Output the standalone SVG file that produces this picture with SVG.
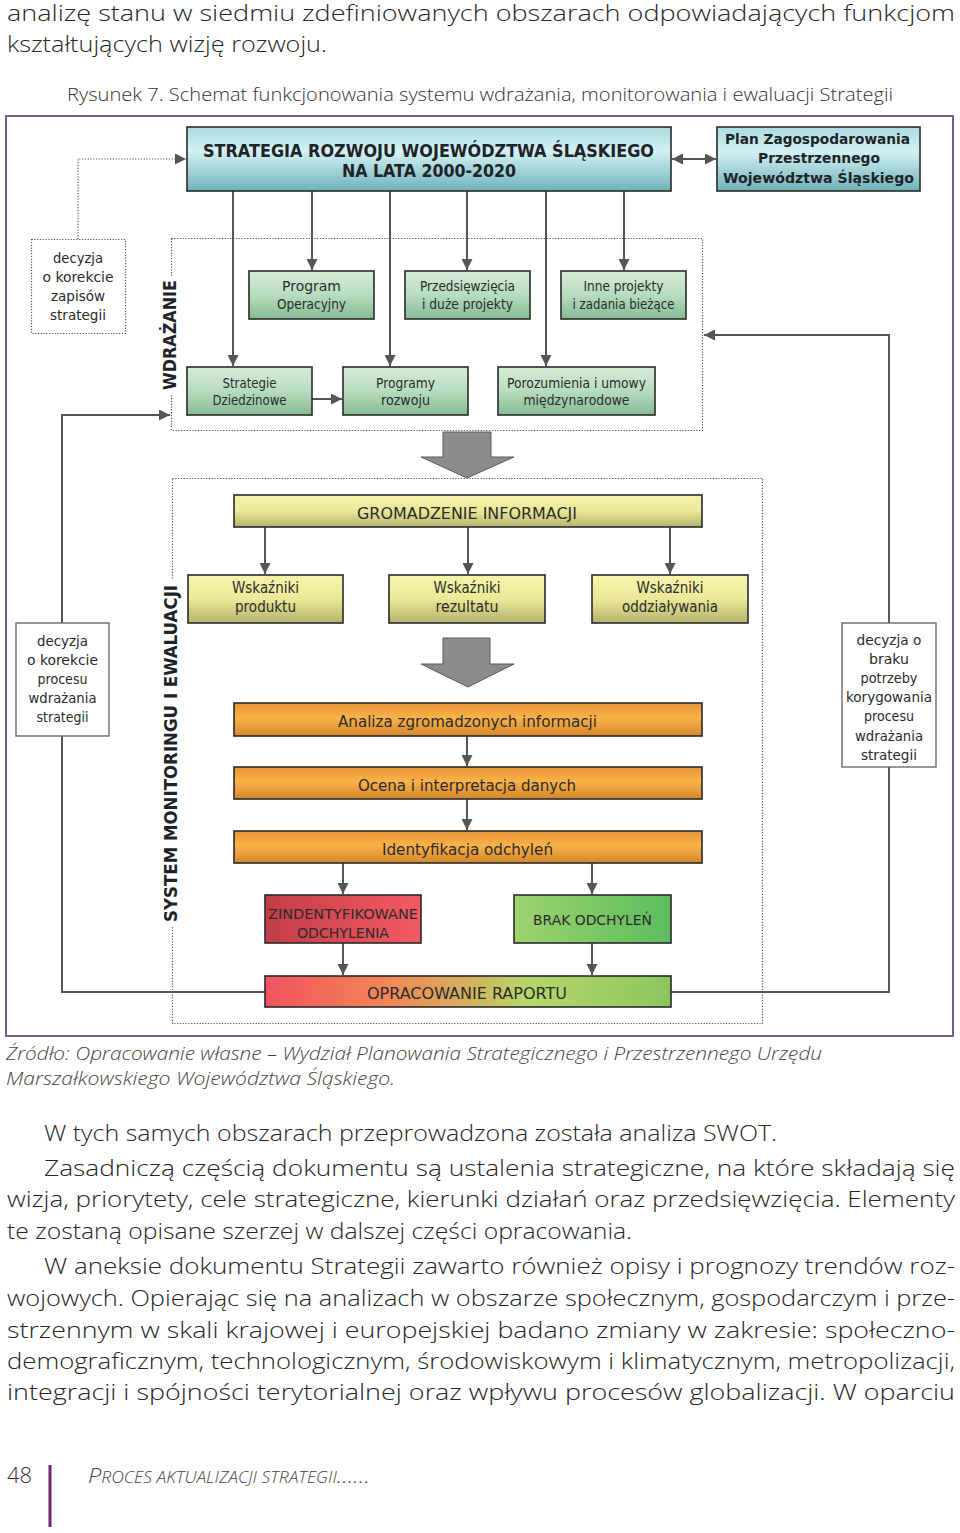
<svg xmlns="http://www.w3.org/2000/svg" width="960" height="1533" viewBox="0 0 960 1533">
<style>
.body{font-family:"Open Sans","Noto Sans","DejaVu Sans",sans-serif;font-size:21.5px;font-weight:300;fill:#262626}
.cap{font-family:"Open Sans","Noto Sans",sans-serif;font-size:19px;font-weight:300;fill:#333}
.src{font-family:"Open Sans","Noto Sans",sans-serif;font-size:19px;font-style:italic;font-weight:300;fill:#444}
.t{font-family:"DejaVu Sans",Verdana,sans-serif;fill:#2b2b2b;text-anchor:middle}
.tb{font-family:"DejaVu Sans",Verdana,sans-serif;font-weight:bold;fill:#1e2328;text-anchor:middle}
.box{stroke:#2a2a2a;stroke-width:1.6}
.dec{fill:#fff;stroke:#6a6a6a;stroke-width:1.4}
.dot{fill:none;stroke:#555;stroke-width:1.2;stroke-dasharray:1.2 1.6}
.con{fill:none;stroke:#555;stroke-width:2}
.big{fill:#8c8c8c;stroke:#5a5a5a;stroke-width:1}
</style>
<defs>
<marker id="ah" markerUnits="userSpaceOnUse" markerWidth="11" markerHeight="11" refX="10" refY="5" orient="auto-start-reverse" viewBox="0 0 10 10">
<path d="M0,0 L10,5 L0,10 z" fill="#555"/>
</marker>
<linearGradient id="gCyan" x1="0" y1="0" x2="0" y2="1">
<stop offset="0" stop-color="#a9dce0"/><stop offset="0.38" stop-color="#d3f1f3"/><stop offset="1" stop-color="#6fb2ba"/>
</linearGradient>
<linearGradient id="gGreen" x1="0" y1="0" x2="0" y2="1">
<stop offset="0" stop-color="#d6edd8"/><stop offset="0.5" stop-color="#b8dcbf"/><stop offset="1" stop-color="#84bb92"/>
</linearGradient>
<linearGradient id="gYellow" x1="0" y1="0" x2="0" y2="1">
<stop offset="0" stop-color="#f6f4aa"/><stop offset="0.5" stop-color="#ebe898"/><stop offset="1" stop-color="#b5b36c"/>
</linearGradient>
<linearGradient id="gOrange" x1="0" y1="0" x2="0" y2="1">
<stop offset="0" stop-color="#e39432"/><stop offset="0.45" stop-color="#fbb24a"/><stop offset="1" stop-color="#d4872c"/>
</linearGradient>
<linearGradient id="gRed" x1="0" y1="0" x2="1" y2="0">
<stop offset="0" stop-color="#c23e48"/><stop offset="1" stop-color="#f45a64"/>
</linearGradient>
<linearGradient id="gBrak" x1="0" y1="0" x2="1" y2="0">
<stop offset="0" stop-color="#9cd46e"/><stop offset="1" stop-color="#5cbd5e"/>
</linearGradient>
<linearGradient id="gRap" x1="0" y1="0" x2="1" y2="0">
<stop offset="0" stop-color="#f2535e"/><stop offset="0.3" stop-color="#f28658"/><stop offset="0.5" stop-color="#d4b05c"/><stop offset="0.65" stop-color="#b4d76a"/><stop offset="1" stop-color="#8cc65e"/>
</linearGradient>
</defs>
<rect width="960" height="1533" fill="#fff"/>

<g id="page-text">
<text class="body" x="7" y="21" textLength="948" lengthAdjust="spacingAndGlyphs">analizę stanu w siedmiu zdefiniowanych obszarach odpowiadających funkcjom</text>
<text class="body" x="7" y="52" textLength="320" lengthAdjust="spacingAndGlyphs">kształtujących wizję rozwoju.</text>
<text class="cap" x="67" y="101" textLength="826" lengthAdjust="spacingAndGlyphs">Rysunek 7. Schemat funkcjonowania systemu wdrażania, monitorowania i ewaluacji Strategii</text>
<text class="src" x="6" y="1060" textLength="816" lengthAdjust="spacingAndGlyphs">Źródło: Opracowanie własne – Wydział Planowania Strategicznego i Przestrzennego Urzędu</text>
<text class="src" x="6" y="1085" textLength="389" lengthAdjust="spacingAndGlyphs">Marszałkowskiego Województwa Śląskiego.</text>
<text class="body" x="44" y="1141" textLength="733" lengthAdjust="spacingAndGlyphs">W tych samych obszarach przeprowadzona została analiza SWOT.</text>
<text class="body" x="44" y="1176" textLength="911" lengthAdjust="spacingAndGlyphs">Zasadniczą częścią dokumentu są ustalenia strategiczne, na które składają się</text>
<text class="body" x="7" y="1207" textLength="948" lengthAdjust="spacingAndGlyphs">wizja, priorytety, cele strategiczne, kierunki działań oraz przedsięwzięcia. Elementy</text>
<text class="body" x="7" y="1239" textLength="625" lengthAdjust="spacingAndGlyphs">te zostaną opisane szerzej w dalszej części opracowania.</text>
<text class="body" x="44" y="1274" textLength="911" lengthAdjust="spacingAndGlyphs">W aneksie dokumentu Strategii zawarto również opisy i prognozy trendów roz-</text>
<text class="body" x="7" y="1306" textLength="948" lengthAdjust="spacingAndGlyphs">wojowych. Opierając się na analizach w obszarze społecznym, gospodarczym i prze-</text>
<text class="body" x="7" y="1338" textLength="948" lengthAdjust="spacingAndGlyphs">strzennym w skali krajowej i europejskiej badano zmiany w zakresie: społeczno-</text>
<text class="body" x="7" y="1369" textLength="948" lengthAdjust="spacingAndGlyphs">demograficznym, technologicznym, środowiskowym i klimatycznym, metropolizacji,</text>
<text class="body" x="7" y="1400" textLength="948" lengthAdjust="spacingAndGlyphs">integracji i spójności terytorialnej oraz wpływu procesów globalizacji. W oparciu</text>
<text class="body" x="7" y="1483" style="font-size:22px;fill:#333">48</text>
<rect x="48.5" y="1465" width="3" height="62" fill="#6b2a6e"/>
<text class="src" x="88" y="1483" textLength="282" lengthAdjust="spacingAndGlyphs" style="font-size:21px;fill:#444">P<tspan style="font-size:15.5px">ROCES AKTUALIZACJI STRATEGII</tspan>……</text>
</g>

<rect id="frame" x="6" y="116" width="947" height="920" fill="none" stroke="#7a5a88" stroke-width="2"/>

<g id="regions">
<rect x="171.5" y="238.5" width="531" height="192" class="dot"/>
<rect x="172.5" y="478.5" width="590" height="545" class="dot"/>
<rect x="156" y="276" width="24" height="118" fill="#fff"/>
<rect x="156" y="580" width="24" height="347" fill="#fff"/>
<text class="tb" transform="translate(176,335) rotate(-90)" style="font-size:17px" textLength="110" lengthAdjust="spacingAndGlyphs">WDRAŻANIE</text>
<text class="tb" transform="translate(177,753.5) rotate(-90)" style="font-size:17px" textLength="337" lengthAdjust="spacingAndGlyphs">SYSTEM MONITORINGU I EWALUACJI</text>
</g>

<g id="connectors">
<path class="dot" d="M78,239 V159 H186" stroke-width="1.4" marker-end="url(#ah)"/>
<path class="con" d="M672,159 H716" marker-start="url(#ah)" marker-end="url(#ah)"/>
<path class="con" d="M233,191 V366" marker-end="url(#ah)"/>
<path class="con" d="M312,191 V270" marker-end="url(#ah)"/>
<path class="con" d="M390,191 V366" marker-end="url(#ah)"/>
<path class="con" d="M467,191 V270" marker-end="url(#ah)"/>
<path class="con" d="M546,191 V366" marker-end="url(#ah)"/>
<path class="con" d="M624,191 V270" marker-end="url(#ah)"/>
<path class="con" d="M312,399 H342" marker-end="url(#ah)"/>
<path class="con" d="M265,527 V574" marker-end="url(#ah)"/>
<path class="con" d="M468,527 V574" marker-end="url(#ah)"/>
<path class="con" d="M670,527 V574" marker-end="url(#ah)"/>
<path class="con" d="M467,736 V766" marker-end="url(#ah)"/>
<path class="con" d="M467,799 V830" marker-end="url(#ah)"/>
<path class="con" d="M343,863 V894" marker-end="url(#ah)"/>
<path class="con" d="M592,863 V894" marker-end="url(#ah)"/>
<path class="con" d="M343,943 V975" marker-end="url(#ah)"/>
<path class="con" d="M592,943 V975" marker-end="url(#ah)"/>
<path class="con" d="M265,992 H62 V736"/>
<path class="con" d="M62,623 V415 H170" marker-end="url(#ah)"/>
<path class="con" d="M671,992 H889 V767"/>
<path class="con" d="M889,623 V335 H704" marker-end="url(#ah)"/>
<polygon class="big" points="443,432 491,432 491,457 514,457 467,478 421,457 443,457"/>
<polygon class="big" points="443,638 490,638 490,664 514,664 468,687 421,664 443,664"/>
</g>

<g id="strategia">
<rect class="box" x="187" y="127" width="484" height="64" fill="url(#gCyan)"/>
<text class="tb" x="428.5" y="157" style="font-size:17px" textLength="451" lengthAdjust="spacingAndGlyphs">STRATEGIA ROZWOJU WOJEWÓDZTWA ŚLĄSKIEGO</text>
<text class="tb" x="429" y="177" style="font-size:17px" textLength="174" lengthAdjust="spacingAndGlyphs">NA LATA 2000-2020</text>
</g>
<g id="plan">
<rect class="box" x="717" y="127" width="203" height="64" fill="url(#gCyan)"/>
<text class="tb" x="817.5" y="144" style="font-size:14.5px" textLength="185" lengthAdjust="spacingAndGlyphs">Plan Zagospodarowania</text>
<text class="tb" x="819" y="163" style="font-size:14.5px" textLength="122" lengthAdjust="spacingAndGlyphs">Przestrzennego</text>
<text class="tb" x="818.5" y="183" style="font-size:14.5px" textLength="191" lengthAdjust="spacingAndGlyphs">Województwa Śląskiego</text>
</g>
<g id="decyzja-zapisy">
<rect x="31.5" y="239.5" width="94" height="94" fill="#fff" class="dot"/>
<text class="t" x="78" y="263" style="font-size:14.5px" textLength="50" lengthAdjust="spacingAndGlyphs">decyzja</text>
<text class="t" x="78" y="282" style="font-size:14.5px" textLength="71" lengthAdjust="spacingAndGlyphs">o korekcie</text>
<text class="t" x="78" y="301" style="font-size:14.5px" textLength="54" lengthAdjust="spacingAndGlyphs">zapisów</text>
<text class="t" x="78" y="320" style="font-size:14.5px" textLength="56" lengthAdjust="spacingAndGlyphs">strategii</text>
</g>
<g id="program-operacyjny">
<rect class="box" x="249" y="271" width="125" height="48" fill="url(#gGreen)"/>
<text class="t" x="311.5" y="291" style="font-size:13.5px" textLength="59" lengthAdjust="spacingAndGlyphs">Program</text>
<text class="t" x="311.5" y="309" style="font-size:13.5px" textLength="69" lengthAdjust="spacingAndGlyphs">Operacyjny</text>
</g>
<g id="przedsiewziecia">
<rect class="box" x="405" y="271" width="125" height="48" fill="url(#gGreen)"/>
<text class="t" x="467.5" y="291" style="font-size:13.5px" textLength="95" lengthAdjust="spacingAndGlyphs">Przedsięwzięcia</text>
<text class="t" x="467.5" y="309" style="font-size:13.5px" textLength="91" lengthAdjust="spacingAndGlyphs">i duże projekty</text>
</g>
<g id="inne-projekty">
<rect class="box" x="561" y="271" width="125" height="48" fill="url(#gGreen)"/>
<text class="t" x="623.5" y="291" style="font-size:13.5px" textLength="80" lengthAdjust="spacingAndGlyphs">Inne projekty</text>
<text class="t" x="623.5" y="309" style="font-size:13.5px" textLength="102" lengthAdjust="spacingAndGlyphs">i zadania bieżące</text>
</g>
<g id="strategie-dziedzinowe">
<rect class="box" x="187" y="367" width="125" height="48" fill="url(#gGreen)"/>
<text class="t" x="249.5" y="388" style="font-size:13.5px" textLength="54" lengthAdjust="spacingAndGlyphs">Strategie</text>
<text class="t" x="249.5" y="405" style="font-size:13.5px" textLength="74" lengthAdjust="spacingAndGlyphs">Dziedzinowe</text>
</g>
<g id="programy-rozwoju">
<rect class="box" x="343" y="367" width="125" height="48" fill="url(#gGreen)"/>
<text class="t" x="405.5" y="388" style="font-size:13.5px" textLength="59" lengthAdjust="spacingAndGlyphs">Programy</text>
<text class="t" x="405.5" y="405" style="font-size:13.5px" textLength="49" lengthAdjust="spacingAndGlyphs">rozwoju</text>
</g>
<g id="porozumienia">
<rect class="box" x="498" y="367" width="157" height="48" fill="url(#gGreen)"/>
<text class="t" x="576.5" y="388" style="font-size:13.5px" textLength="139" lengthAdjust="spacingAndGlyphs">Porozumienia i umowy</text>
<text class="t" x="576.5" y="405" style="font-size:13.5px" textLength="106" lengthAdjust="spacingAndGlyphs">międzynarodowe</text>
</g>
<g id="gromadzenie">
<rect class="box" x="234" y="495" width="468" height="32" fill="url(#gYellow)"/>
<text class="t" x="467" y="519" style="font-size:16px" textLength="220" lengthAdjust="spacingAndGlyphs">GROMADZENIE INFORMACJI</text>
</g>
<g id="wskazniki-produktu">
<rect class="box" x="188" y="575" width="155" height="48" fill="url(#gYellow)"/>
<text class="t" x="265.5" y="593" style="font-size:15px" textLength="67" lengthAdjust="spacingAndGlyphs">Wskaźniki</text>
<text class="t" x="265.5" y="612" style="font-size:15px" textLength="61" lengthAdjust="spacingAndGlyphs">produktu</text>
</g>
<g id="wskazniki-rezultatu">
<rect class="box" x="389" y="575" width="156" height="48" fill="url(#gYellow)"/>
<text class="t" x="467" y="593" style="font-size:15px" textLength="67" lengthAdjust="spacingAndGlyphs">Wskaźniki</text>
<text class="t" x="467" y="612" style="font-size:15px" textLength="63" lengthAdjust="spacingAndGlyphs">rezultatu</text>
</g>
<g id="wskazniki-oddzialywania">
<rect class="box" x="592" y="575" width="156" height="48" fill="url(#gYellow)"/>
<text class="t" x="670" y="593" style="font-size:15px" textLength="67" lengthAdjust="spacingAndGlyphs">Wskaźniki</text>
<text class="t" x="670" y="612" style="font-size:15px" textLength="96" lengthAdjust="spacingAndGlyphs">oddziaływania</text>
</g>
<g id="analiza">
<rect class="box" x="234" y="703" width="468" height="33" fill="url(#gOrange)"/>
<text class="t" x="467.5" y="727" style="font-size:16.5px" textLength="259" lengthAdjust="spacingAndGlyphs">Analiza zgromadzonych informacji</text>
</g>
<g id="ocena">
<rect class="box" x="234" y="767" width="468" height="32" fill="url(#gOrange)"/>
<text class="t" x="467" y="791" style="font-size:16.5px" textLength="218" lengthAdjust="spacingAndGlyphs">Ocena i interpretacja danych</text>
</g>
<g id="identyfikacja">
<rect class="box" x="234" y="831" width="468" height="32" fill="url(#gOrange)"/>
<text class="t" x="467.5" y="855" style="font-size:16.5px" textLength="171" lengthAdjust="spacingAndGlyphs">Identyfikacja odchyleń</text>
</g>
<g id="zidentyfikowane">
<rect class="box" x="265" y="895" width="156" height="48" fill="url(#gRed)"/>
<text class="t" x="343" y="919" style="font-size:14.5px" textLength="150" lengthAdjust="spacingAndGlyphs">ZINDENTYFIKOWANE</text>
<text class="t" x="343" y="938" style="font-size:14.5px" textLength="92" lengthAdjust="spacingAndGlyphs">ODCHYLENIA</text>
</g>
<g id="brak-odchylen">
<rect class="box" x="514" y="895" width="157" height="48" fill="url(#gBrak)"/>
<text class="t" x="592.5" y="925" style="font-size:14.5px" textLength="119" lengthAdjust="spacingAndGlyphs">BRAK ODCHYLEŃ</text>
</g>
<g id="raport">
<rect class="box" x="265" y="976" width="406" height="31" fill="url(#gRap)"/>
<text class="t" x="467" y="999" style="font-size:16.5px" textLength="200" lengthAdjust="spacingAndGlyphs">OPRACOWANIE RAPORTU</text>
</g>
<g id="decyzja-proces">
<rect class="dec" x="16" y="623" width="93" height="113"/>
<text class="t" x="62.5" y="646" style="font-size:14.5px" textLength="51" lengthAdjust="spacingAndGlyphs">decyzja</text>
<text class="t" x="62.5" y="665" style="font-size:14.5px" textLength="71" lengthAdjust="spacingAndGlyphs">o korekcie</text>
<text class="t" x="62.5" y="684" style="font-size:14.5px" textLength="50" lengthAdjust="spacingAndGlyphs">procesu</text>
<text class="t" x="62.5" y="703" style="font-size:14.5px" textLength="68" lengthAdjust="spacingAndGlyphs">wdrażania</text>
<text class="t" x="62.5" y="722" style="font-size:14.5px" textLength="52" lengthAdjust="spacingAndGlyphs">strategii</text>
</g>
<g id="decyzja-brak">
<rect class="dec" x="842" y="623" width="94" height="144"/>
<text class="t" x="889" y="645" style="font-size:14.5px" textLength="65" lengthAdjust="spacingAndGlyphs">decyzja o</text>
<text class="t" x="889" y="664" style="font-size:14.5px" textLength="40" lengthAdjust="spacingAndGlyphs">braku</text>
<text class="t" x="889" y="683" style="font-size:14.5px" textLength="57" lengthAdjust="spacingAndGlyphs">potrzeby</text>
<text class="t" x="889" y="702" style="font-size:14.5px" textLength="86" lengthAdjust="spacingAndGlyphs">korygowania</text>
<text class="t" x="889" y="721" style="font-size:14.5px" textLength="50" lengthAdjust="spacingAndGlyphs">procesu</text>
<text class="t" x="889" y="741" style="font-size:14.5px" textLength="68" lengthAdjust="spacingAndGlyphs">wdrażania</text>
<text class="t" x="889" y="760" style="font-size:14.5px" textLength="56" lengthAdjust="spacingAndGlyphs">strategii</text>
</g>
</svg>
